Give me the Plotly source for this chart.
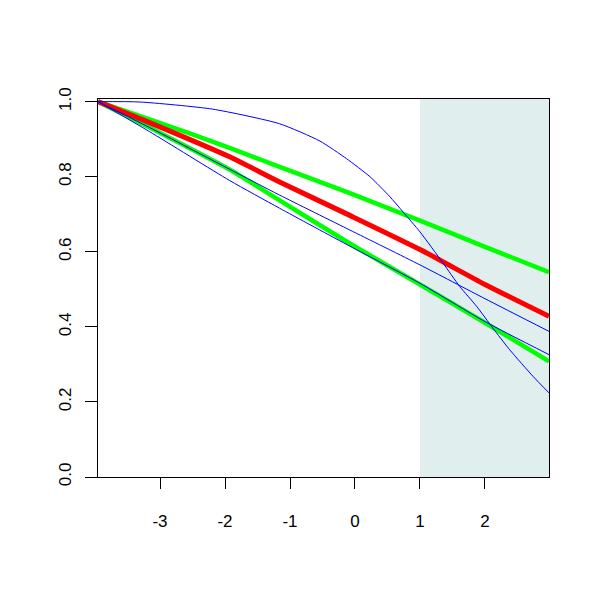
import plotly.graph_objects as go

# shared x positions for the near-linear curves
x_lin = [-3.954, -3.16, -1.93, -1.16, -0.08, 1.0, 2.0, 2.985]
green_upper = [1.0, 0.953, 0.877, 0.826, 0.756, 0.683, 0.613, 0.546]
red_mid = [1.0, 0.944, 0.853, 0.786, 0.697, 0.606, 0.513, 0.428]
green_lower = [1.0, 0.931, 0.819, 0.737, 0.622, 0.513, 0.411, 0.308]
blue_mid = [1.0, 0.931, 0.820, 0.751, 0.658, 0.565, 0.475, 0.388]
blue_low = [1.0, 0.920, 0.790, 0.716, 0.615, 0.516, 0.414, 0.326]

# steep blue curve
x_steep = [-3.954, -3.31, -2.19, -1.16, -0.54, -0.13, 0.23, 0.53, 0.74, 1.0,
           1.35, 1.61, 1.87, 2.12, 2.38, 2.74, 2.985]
blue_steep = [1.0, 0.999, 0.98, 0.941, 0.895, 0.848, 0.80, 0.748, 0.706, 0.653,
              0.571, 0.508, 0.455, 0.397, 0.339, 0.268, 0.224]

x_ticks = [-3, -2, -1, 0, 1, 2]
x_tick_labels = ["-3", "-2", "-1", "0", "1", "2"]
y_ticks = [0.0, 0.2, 0.4, 0.6, 0.8, 1.0]
y_tick_labels = ["0.0", "0.2", "0.4", "0.6", "0.8", "1.0"]
shade_start = 1.0

fig = go.Figure()
fig.add_shape(type="rect", xref="x", yref="paper", x0=shade_start, x1=2.985,
              y0=0, y1=1, fillcolor="#E0EEEE", line_width=0, layer="below")

for ys in (green_upper, green_lower):
    fig.add_trace(go.Scatter(x=x_lin, y=ys, mode="lines",
                             line=dict(color="#00FF00", width=4.5, shape="spline",
                                       smoothing=0.6),
                             showlegend=False))
fig.add_trace(go.Scatter(x=x_lin, y=red_mid, mode="lines",
                         line=dict(color="#FF0000", width=5, shape="spline",
                                   smoothing=0.6),
                         showlegend=False))
for ys in (blue_mid, blue_low):
    fig.add_trace(go.Scatter(x=x_lin, y=ys, mode="lines",
                             line=dict(color="#0000FF", width=1, shape="spline",
                                       smoothing=0.6),
                             showlegend=False))
fig.add_trace(go.Scatter(x=x_steep, y=blue_steep, mode="lines",
                         line=dict(color="#0000FF", width=1, shape="spline",
                                   smoothing=0.6),
                         showlegend=False))

fig.update_layout(
    width=600, height=600,
    margin=dict(l=90, r=59, t=91, b=131),
    plot_bgcolor="white", paper_bgcolor="white",
    font=dict(family="Liberation Sans, Arial, sans-serif", size=17, color="black"),
    xaxis=dict(range=[-3.954, 2.985], tickvals=x_ticks, ticktext=x_tick_labels,
               ticks="outside", ticklen=11,
               tickwidth=1, tickcolor="black", showline=True, linecolor="black",
               linewidth=1, mirror=True, showgrid=False, zeroline=False,
               ticklabelstandoff=18),
    yaxis=dict(range=[0, 1.007], tickvals=y_ticks, ticktext=y_tick_labels,
               ticks="outside", ticklen=12, tickwidth=1, tickcolor="black",
               showline=True, linecolor="black", linewidth=1, mirror=True,
               showgrid=False, zeroline=False, tickangle=-90,
               ticklabelstandoff=7),
)

fig.write_html("out.html")
